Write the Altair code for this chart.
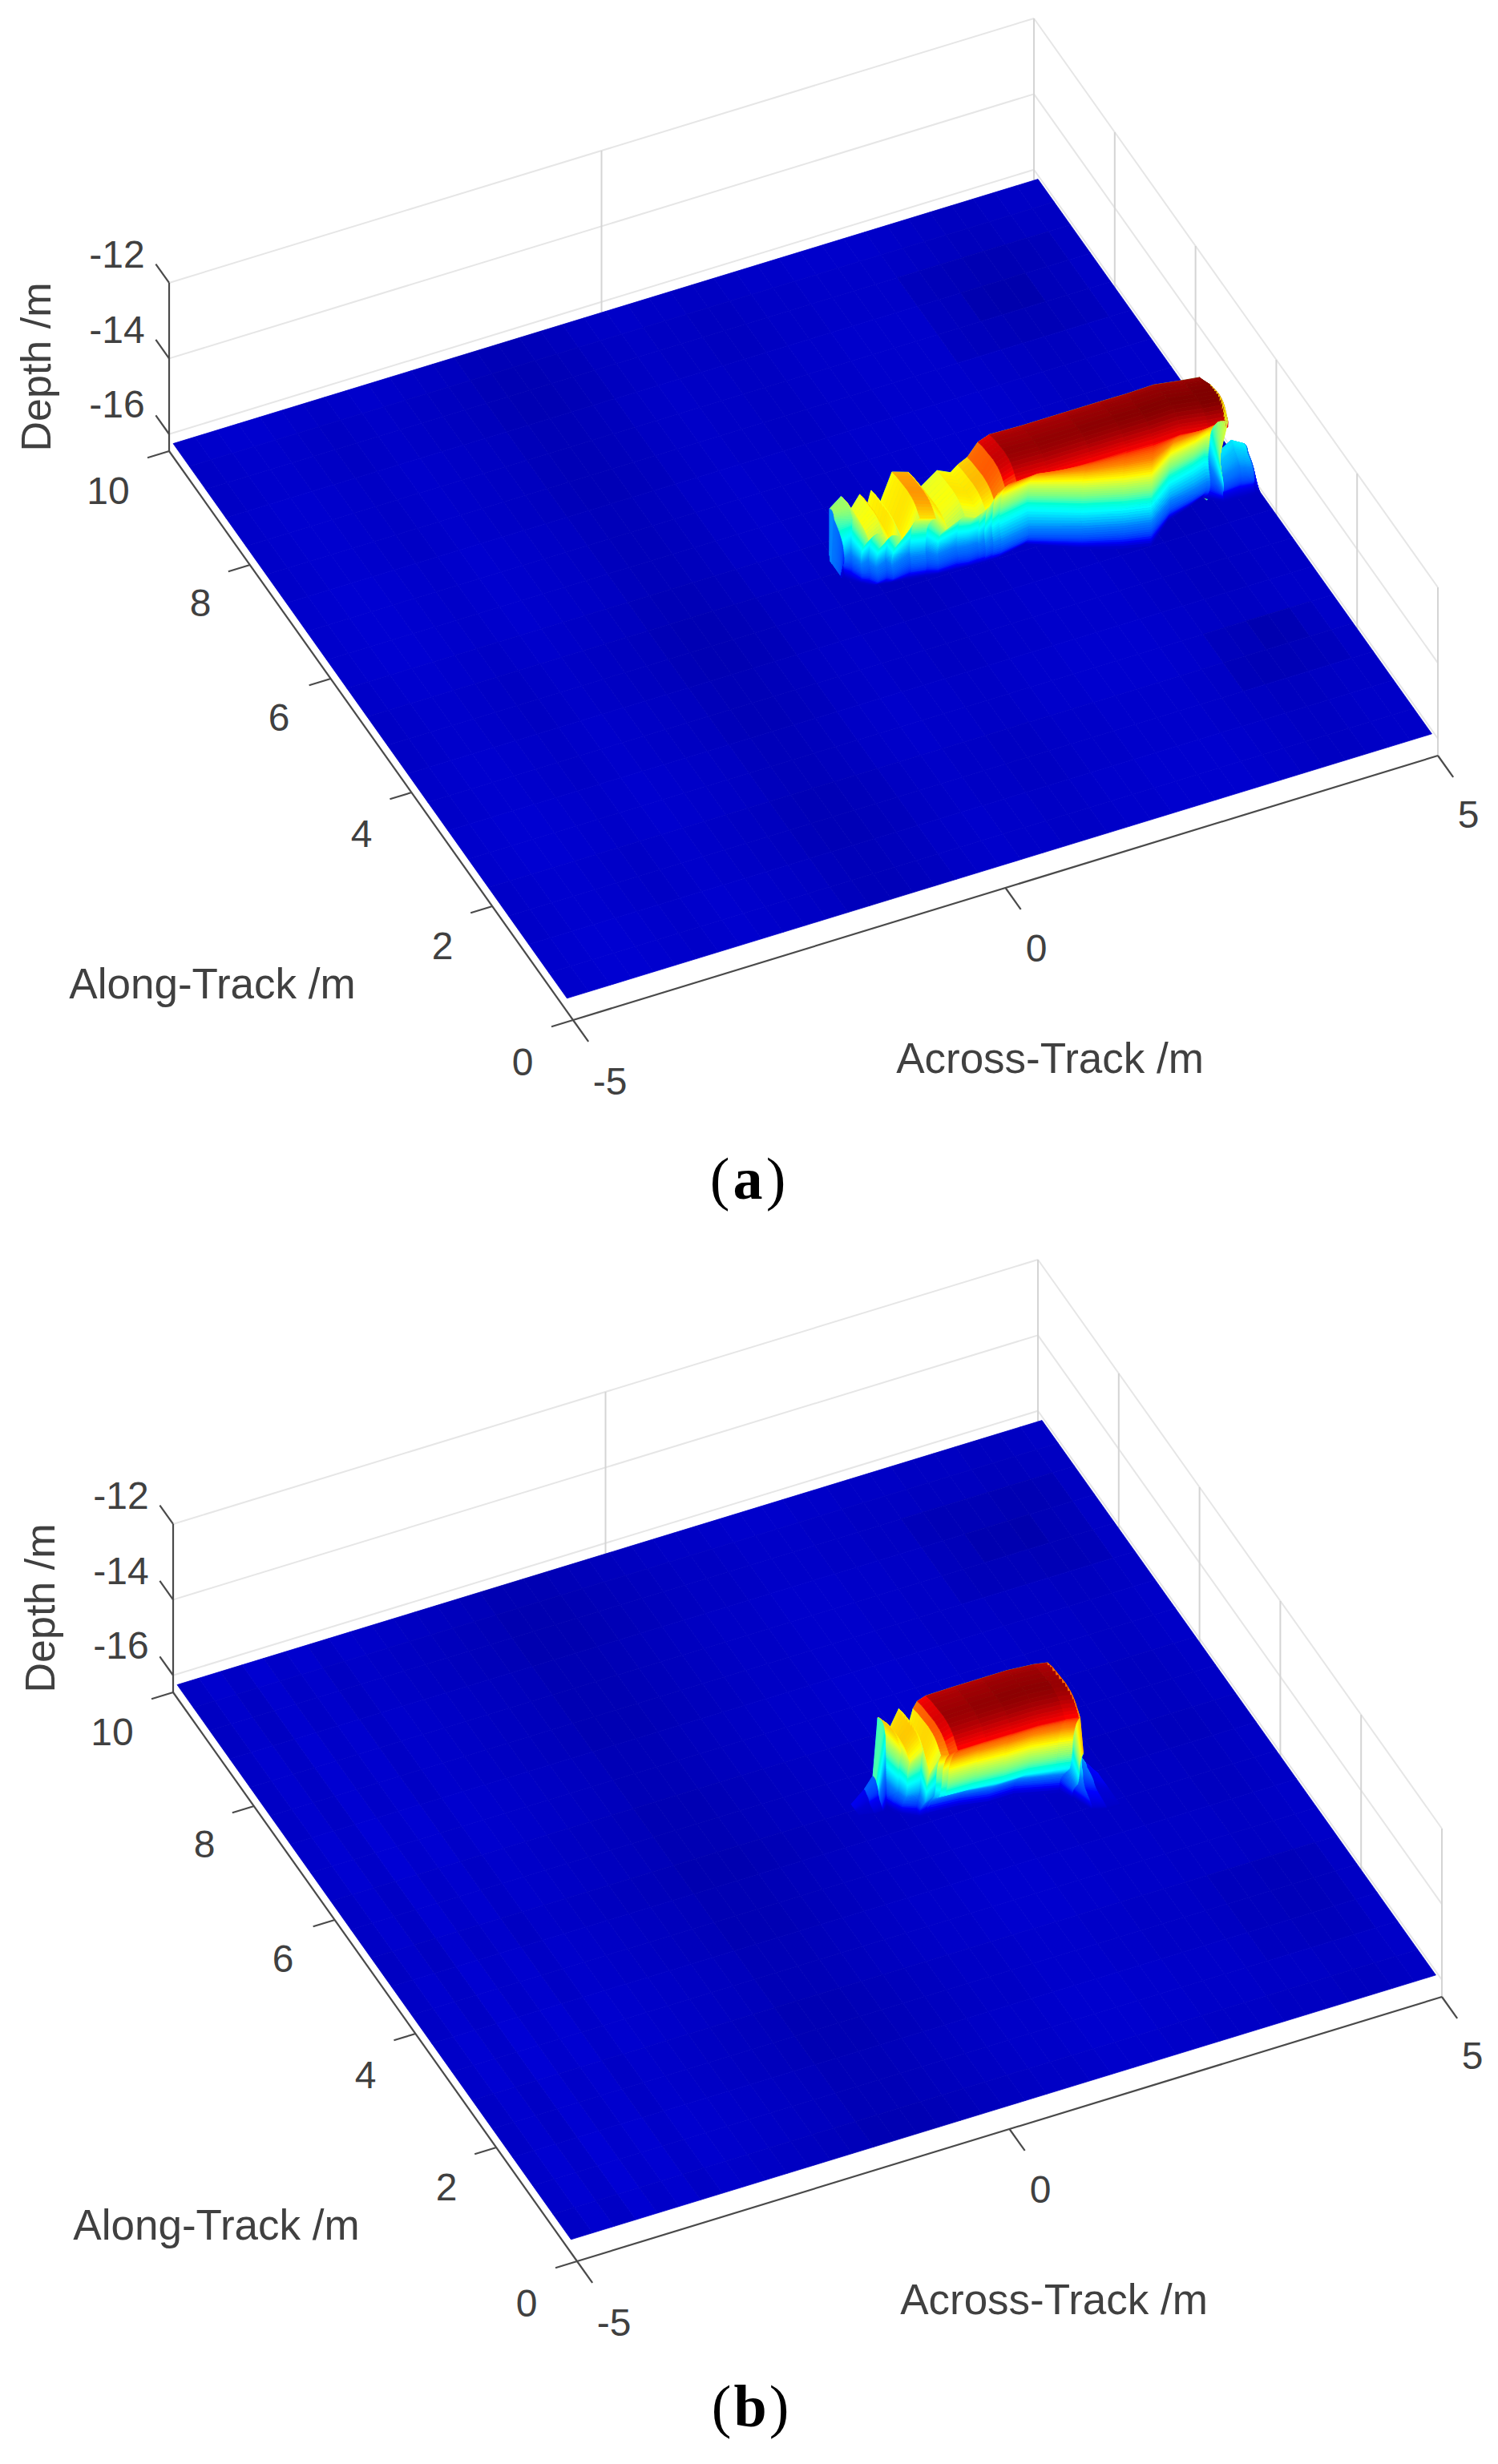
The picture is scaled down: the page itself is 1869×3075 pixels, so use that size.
import altair as alt
import pandas as pd

W, H = 1853, 3059
MARGIN = 8

# floor corners of panel (a) in page pixels, panel (b) is shifted
ORIGIN = (715, 1273)
U = (1079, -330)
V = (-504, -710)
Z_PX = 47.2
Z_FLOOR = -16.45
PANEL_SHIFT = {"a": (0, 0), "b": (5, 1549)}

Z_TICKS = [-12, -14, -16]
ALONG_TICKS = [0, 2, 4, 6, 8, 10]
ACROSS_TICKS = [-5, 0, 5]

# jet colours, depth stops
JET_DOMAIN = [-16.33, -15.9, -15.47, -15.05, -14.62, -14.19, -13.76, -13.33, -12.9]
JET_RANGE = ["#000080", "#0000ff", "#0080ff", "#00ffff", "#80ff80", "#ffff00", "#ff8000", "#ff0000", "#800000"]

BASE_DEPTH = -16.1
ALONG_STATIONS = [0.15, 0.6, 1.1, 1.6, 2.1, 2.6, 3.1, 3.6, 4.1, 4.6, 5.1, 5.6, 6.1, 6.6, 7.1, 7.6, 8.1, 8.6, 9.1, 9.5, 9.9]
ACROSS_STATIONS = [-5, -4.75, -4.5, -4.25, -4, -3.75, -3.5, -3.25, -3, -2.75, -2.5, -2.25, -2, -1.75, -1.5, -1.25, -1,
                   -0.75, -0.5, -0.25, 0, 0.25, 0.5, 0.75, 1, 1.25, 1.5, 1.75, 2, 2.25, 2.5, 2.75, 3, 3.25, 3.5, 3.75,
                   4, 4.25, 4.5, 4.75, 5]

a_stripes = [0.02, 0.03, 0.04, 0.04, 0.03, 0.02, 0.01, 0.02, 0.03, 0.02, 0.01, 0.0, -0.01, -0.03, -0.04, -0.04, -0.03,
             -0.02, 0.0, 0.01, 0.02, 0.01, 0.01, 0.0, 0.0, 0.01, 0.02, 0.02, 0.03, 0.03, 0.03, 0.03, 0.02, 0.01,
             0.0, -0.01, -0.01, 0.0, 0.01, 0.01, 0.01]
b_stripes = [0.01, 0.04, 0.01, 0.05, 0.02, 0.04, 0.01, 0.03, 0.02, 0.01, 0.0, -0.01, -0.02, -0.03, -0.05, -0.05, -0.05,
             -0.04, -0.03, -0.02, -0.01, 0.0, 0.01, 0.01, 0.02, 0.03, 0.03, 0.03, 0.02, 0.02, 0.01, 0.01, 0.01, 0.0,
             0.0, 0.0, -0.01, -0.01, 0.0, 0.01, 0.01]
a_along_trend = [0.01, 0.01, 0.0, 0.0, 0.01, 0.01, 0.0, 0.0, -0.01, -0.01, 0.0, 0.01, 0.01, 0.01, 0.0, 0.0, 0.0, -0.01, -0.01, 0.0, 0.0]
b_along_trend = [0.0, 0.01, 0.01, 0.0, 0.0, 0.01, 0.01, 0.0, 0.0, -0.01, 0.0, 0.0, 0.01, 0.01, 0.0, 0.0, 0.0, -0.01, -0.01, 0.0, 0.0]
# across from, across to, along from, along to, change
a_dips = [(3.0, 4.8, 7.5, 9.2, -0.03), (3.4, 4.4, 7.9, 8.8, -0.03), (3.4, 4.9, 1.3, 3.0, -0.03), (3.8, 4.6, 1.7, 2.6, -0.03)]
b_dips = [(3.0, 4.8, 7.5, 9.2, -0.03), (3.4, 4.4, 7.9, 8.8, -0.03), (3.4, 4.9, 0.9, 2.6, -0.02)]

# object outline per across station: back edge along, foot along, top depth, top band width
a_across = [0.45, 0.48, 0.52, 0.58, 0.64, 0.70, 0.80, 0.866, 1.075, 1.24, 1.37, 1.585, 1.70, 1.82, 1.89, 1.97, 2.05,
            2.4, 2.9, 3.3, 3.6, 3.93, 4.22, 4.40, 4.44, 4.6, 4.8, 4.95, 5.0]
a_back = [5.3, 5.38, 5.19, 5.10, 4.98, 4.93, 5.04, 4.99, 5.11, 5.06, 5.03, 5.09, 5.0, 5.08, 4.99, 4.9, 4.79,
          4.77, 4.76, 4.75, 4.74, 4.74, 4.68, 4.62, 4.5, 4.7, 4.7, 4.7, 4.7]
a_foot = [4.98, 4.97, 4.92, 4.86, 4.8, 4.76, 4.74, 4.73, 4.7, 4.67, 4.64, 4.62, 4.61, 4.6, 4.6, 4.6, 4.6,
          4.68, 4.38, 4.2, 4.11, 4.4, 4.5, 4.58, 4.55, 4.42, 4.4, 4.4, 4.4]
a_top = [-16.1, -14.8, -14.2, -14.5, -13.9, -14.2, -14.0, -14.4, -13.8, -13.85, -14.3, -14.1, -14.1, -14.1, -13.8,
         -13.3, -12.98, -12.97, -12.95, -12.93, -12.92, -12.9, -12.9, -12.85, -12.85, -15.3, -15.0, -15.2, -16.1]
a_width = [0.05, 0.12, 0.3, 0.5, 0.6, 0.7, 0.7, 0.7, 0.7, 0.7, 0.7, 0.7, 0.7, 0.7, 0.7, 0.7, 0.7,
           0.7, 0.7, 0.7, 0.7, 0.7, 0.7, 0.7, 0.5, 0.1, 0.1, 0.1, 0.1]
a_wall_shift = [0, 0.04, 0.08, 0.115, 0.15, 0.175, 0.2, 0.21, 0.22, 0.22, 0.22, 0.21, 0.2, 0.18, 0.16, 0.15, 0.14, 0.135,
                0.13, 0.135, 0.14, 0.15, 0.16, 0.17, 0.18, 0.19, 0.2, 0.21, 0.22, 0.235, 0.25, 0.275, 0.3, 0.335, 0.37,
                0.415, 0.46, 0.505, 0.55, 0.615, 0.68, 0.755, 0.83, 0.915, 1]

b_across = [0.6, 0.75, 0.85, 0.92, 0.96, 1.01, 1.13, 1.16, 1.245, 1.26, 1.28, 1.6, 1.9, 2.2, 2.5, 2.66, 2.74, 2.85, 3.0, 3.15]
b_back = [5.2, 5.2, 5.2, 5.23, 5.13, 5.13, 5.16, 5.06, 5.05, 4.98, 4.81, 4.8, 4.79, 4.78, 4.76, 4.75, 4.74, 4.7, 4.6, 4.55]
b_foot = [5.0, 4.95, 4.95, 5.0, 4.9, 4.83, 4.73, 4.71, 4.7, 4.7, 4.7, 4.67, 4.6, 4.6, 4.5, 4.45, 4.3, 4.05, 4.0, 4.0]
b_top = [-16.1, -15.8, -15.5, -14.0, -14.0, -14.2, -13.8, -14.4, -13.7, -13.4, -13.0, -12.97, -12.95, -12.93, -12.95,
         -13.0, -14.3, -15.1, -15.7, -16.1]
b_width = [0.05, 0.05, 0.1, 0.2, 0.4, 0.5, 0.6, 0.6, 0.7, 0.8, 0.8, 0.8, 0.8, 0.8, 0.8, 0.8, 0.7, 0.3, 0.1, 0.05]
b_wall_shift = [0, 0, 0, 0.005, 0.01, 0.03, 0.05, 0.085, 0.12, 0.16, 0.2, 0.25, 0.3, 0.35, 0.4, 0.45, 0.5, 0.525, 0.55,
                0.565, 0.58, 0.595, 0.61, 0.62, 0.63, 0.64, 0.65, 0.655, 0.66, 0.665, 0.67, 0.68, 0.69, 0.705, 0.72,
                0.74, 0.76, 0.78, 0.8, 0.825, 0.85, 0.885, 0.92, 0.96, 1]

# share of height on the wall, foot to shoulder
wall_height = [0, 0.02, 0.04, 0.06, 0.08, 0.1, 0.12, 0.14, 0.16, 0.18, 0.2, 0.22, 0.24, 0.26, 0.28, 0.3, 0.32, 0.34,
               0.36, 0.38, 0.4, 0.42, 0.44, 0.46, 0.48, 0.5, 0.52, 0.54, 0.56, 0.58, 0.6, 0.62, 0.64, 0.66, 0.68, 0.7,
               0.72, 0.74, 0.76, 0.78, 0.8, 0.82, 0.84, 0.86, 0.88]
# top band, back to front: share of width, share of height
top_width = [-0.04, 0, 0.08, 0.15, 0.25, 0.35, 0.45, 0.55, 0.62, 0.7, 0.76, 0.82, 0.86, 0.9, 0.93, 0.96]
top_height = [0, 0.96, 0.97, 0.98, 0.985, 0.99, 0.995, 1.0, 0.995, 0.99, 0.98, 0.965, 0.95, 0.93, 0.915, 0.9]

tick_labels = {
    "z": ["-12", "-14", "-16"],
    "along": ["0", "2", "4", "6", "8", "10"],
    "across": ["-5", "0", "5"],
}
z_label_pos = [(146, 320), (146, 414), (146, 507)]
along_label_pos = [(652, 1328), (552, 1183), (451, 1043), (348, 898), (250, 755), (135, 615)]
across_label_pos = [(761, 1352), (1293, 1186), (1832, 1019)]


def project(panel, across, along, z):
    sx, sy = PANEL_SHIFT[panel]
    a = (across + 5) / 10
    b = along / 10
    x = ORIGIN[0] + U[0] * a + V[0] * b + sx
    y = ORIGIN[1] + U[1] * a + V[1] * b - Z_PX * (z - Z_FLOOR) + sy
    return x - MARGIN, y - MARGIN


def quad(panel, corners, depth=None):
    pts = [list(project(panel, *c)) for c in corners]
    return {
        "type": "Feature",
        "geometry": {"type": "Polygon", "coordinates": [pts + [pts[0]]]},
        "depth": depth if depth is not None else sum(c[2] for c in corners) / 4,
    }


def surface(panel, stripes, trend, dips, across, back, foot, top, width, wall_shift):
    features = []
    # sea floor, far strips first, tone follows the small depth changes
    for j in range(len(ALONG_STATIONS) - 2, -1, -1):
        b0, b1 = ALONG_STATIONS[j], ALONG_STATIONS[j + 1]
        for i in range(len(ACROSS_STATIONS) - 1):
            a0, a1 = ACROSS_STATIONS[i], ACROSS_STATIONS[i + 1]
            z = BASE_DEPTH + stripes[i] + trend[j]
            for d in dips:
                if d[0] <= a0 and a1 <= d[1] and d[2] <= b0 and b1 <= d[3]:
                    z += d[4]
            flat = BASE_DEPTH
            features.append(quad(panel, [(a0, b0, flat), (a1, b0, flat), (a1, b1, flat), (a0, b1, flat)], z))
    # object rows from the back edge down to the foot
    rows = []
    for k in range(len(across)):
        row = []
        for t, g in zip(top_width, top_height):
            row.append((across[k], back[k] - t * width[k], BASE_DEPTH + g * (top[k] - BASE_DEPTH)))
        for n in range(len(wall_height) - 1, -1, -1):
            along = foot[k] + wall_shift[n] * (back[k] - width[k] - foot[k])
            row.append((across[k], along, BASE_DEPTH + wall_height[n] * (top[k] - BASE_DEPTH)))
        rows.append(row)
    for r in range(len(rows[0]) - 1):
        for k in range(len(across) - 1):
            features.append(quad(panel, [rows[k][r], rows[k + 1][r], rows[k + 1][r + 1], rows[k][r + 1]]))
    return features


def segments(panel):
    light, mid, dark = [], [], []

    def add(target, p, q, name):
        for s, (a, b, z) in enumerate((p, q)):
            x, y = project(panel, a, b, z)
            target.append({"x": x, "y": y, "seg": f"{panel}{name}", "o": s})

    for z in Z_TICKS:
        add(light, (-5, 10, z), (5, 10, z), f"back{z}")
        add(light, (5, 10, z), (5, 0, z), f"side{z}")
    add(mid, (0, 10, Z_FLOOR), (0, 10, -12), "v0")
    add(mid, (5, 10, Z_FLOOR), (5, 10, -12), "vb")
    for b in ALONG_TICKS[:-1]:
        add(mid, (5, b, Z_FLOOR), (5, b, -12), f"vs{b}")
    add(dark, (-5, 0, Z_FLOOR), (5, 0, Z_FLOOR), "front")
    add(dark, (-5, 0, Z_FLOOR), (-5, 10, Z_FLOOR), "left")
    add(dark, (-5, 10, Z_FLOOR), (-5, 10, -12), "zaxis")
    for a in ACROSS_TICKS:
        add(dark, (a, 0, Z_FLOOR), (a, -0.38, Z_FLOOR), f"ta{a}")
    for b in ALONG_TICKS:
        add(dark, (-5, b, Z_FLOOR), (-5.25, b, Z_FLOOR), f"tb{b}")
    for z in Z_TICKS:
        add(dark, (-5, 10, z), (-5, 10.33, z), f"tz{z}")
    return light, mid, dark


def tick_rows():
    rows = []
    for sx, sy in PANEL_SHIFT.values():
        for labels_, pos in ((tick_labels["z"], z_label_pos), (tick_labels["along"], along_label_pos),
                             (tick_labels["across"], across_label_pos)):
            for t, (x, y) in zip(labels_, pos):
                rows.append({"x": x + sx - MARGIN, "y": y + sy - MARGIN, "t": t})
    return rows


def title_rows():
    rows = []
    for sx, sy in PANEL_SHIFT.values():
        rows.append({"x": 265 + sx - MARGIN, "y": 1230 + sy - MARGIN, "t": "Along-Track /m"})
        rows.append({"x": 1310 + sx - MARGIN, "y": 1323 + sy - MARGIN, "t": "Across-Track /m"})
    return rows


def xy():
    return {
        "x": alt.X("x:Q", scale=alt.Scale(domain=[0, W], range=[0, W], nice=False, zero=False), axis=None),
        "y": alt.Y("y:Q", scale=alt.Scale(domain=[0, H], range=[0, H], nice=False, zero=False), axis=None),
    }


def lines(rows, color, width):
    return (
        alt.Chart(pd.DataFrame(rows))
        .mark_line(color=color, strokeWidth=width)
        .encode(detail="seg:N", order="o:Q", **xy())
    )


def text_layer(rows, **mark):
    base = dict(color="#404040", align="center", baseline="middle")
    base.update(mark)
    return alt.Chart(pd.DataFrame(rows)).mark_text(**base).encode(text="t:N", **xy())


features = surface("a", a_stripes, a_along_trend, a_dips, a_across, a_back, a_foot, a_top, a_width, a_wall_shift)
features += surface("b", b_stripes, b_along_trend, b_dips, b_across, b_back, b_foot, b_top, b_width, b_wall_shift)

jet = alt.Scale(domain=JET_DOMAIN, range=JET_RANGE, clamp=True)
shape = (
    alt.Chart(alt.Data(values=features))
    .mark_geoshape(strokeWidth=0.8)
    .encode(
        color=alt.Color("depth:Q", scale=jet, legend=None),
        stroke=alt.Stroke("depth:Q", scale=jet, legend=None),
    )
    .project(type="identity", scale=1, translate=[0, 0])
)

light_a, mid_a, dark_a = segments("a")
light_b, mid_b, dark_b = segments("b")
light = lines(light_a + light_b, "#e6e6e6", 2)
mid = lines(mid_a + mid_b, "#d4d4d4", 2)
dark = lines(dark_a + dark_b, "#4a4a4a", 2.2)

ticks = text_layer(tick_rows(), font="Liberation Sans", fontSize=48)
titles = text_layer(title_rows(), font="Liberation Sans", fontSize=53)
depth_rows = [{"x": 47 + sx - MARGIN, "y": 458 + sy - MARGIN, "t": "Depth /m"} for sx, sy in PANEL_SHIFT.values()]
depth_labels = text_layer(depth_rows, font="Liberation Sans", fontSize=52, angle=270)

caption_rows = [
    {"x": 890, "y": 1466, "t": "("},
    {"x": 960, "y": 1466, "t": ")"},
    {"x": 892, "y": 2998, "t": "("},
    {"x": 964, "y": 2998, "t": ")"},
]
caption_bold_rows = [{"x": 925, "y": 1466, "t": "a"}, {"x": 928, "y": 2998, "t": "b"}]
caption = text_layer(caption_rows, font="Liberation Serif", fontSize=74, color="#000000")
caption_bold = text_layer(caption_bold_rows, font="Liberation Serif", fontSize=74, fontWeight="bold", color="#000000")

chart = (
    alt.layer(light, mid, shape, dark, ticks, titles, depth_labels, caption, caption_bold)
    .properties(width=W, height=H, padding=0, background="white")
    .configure_view(stroke=None)
)
chart.save("out.html", embed_options={"renderer": "svg", "actions": False})
